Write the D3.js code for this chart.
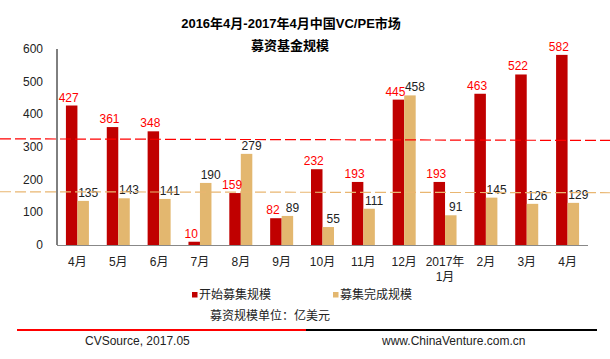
<!DOCTYPE html>
<html><head><meta charset="utf-8">
<script src="https://cdn.jsdelivr.net/npm/d3@7"></script>
<style>
body{margin:0;background:#fff;}
text{font-family:"Liberation Sans",Arial,"Noto Sans CJK SC",sans-serif;}
</style></head>
<body><svg id="c" width="610" height="359"></svg>
<script>
const categories = ["4月","5月","6月","7月","8月","9月","10月","11月","12月","2017年\n1月","2月","3月","4月"];
const startValues = [427,361,348,10,159,82,232,193,445,193,463,522,582];
const doneValues = [135,143,141,190,279,89,55,111,458,91,145,126,129];
const yTicks = [0,100,200,300,400,500,600];
const avgStart = [325,320];
const avgDone = [163,160];
const seriesNames = ["开始募集规模","募集完成规模"];
const colors = ["#c00000","#e3b76f"];

const svg = d3.select("#c");
const idx = d3.range(categories.length);
const x = d3.scaleBand().domain(idx).range([57,588]);
const y = d3.scaleLinear().domain([0,600]).range([245,49]);
const bw = 11.5;
const cx = i => x(i)+x.bandwidth()/2;

// title
svg.append("text").attr("x",291).attr("y",28).attr("text-anchor","middle")
  .attr("font-size",13).attr("font-weight","bold").text("2016年4月-2017年4月中国VC/PE市场");
svg.append("text").attr("x",290).attr("y",50).attr("text-anchor","middle")
  .attr("font-size",13).attr("font-weight","bold").text("募资基金规模");

// y tick labels
svg.selectAll(".yt").data(yTicks).enter().append("text")
  .attr("x",43).attr("y",d=>y(d)+4).attr("text-anchor","end")
  .attr("font-size",12).attr("fill","#222").text(d=>d);

// bars
const g = svg.append("g");
g.selectAll(".rs").data(idx).enter().append("rect")
  .attr("x",i=>cx(i)-bw).attr("width",bw)
  .attr("y",i=>y(startValues[i])).attr("height",i=>y(0)-y(startValues[i]))
  .attr("fill",colors[0]);
g.selectAll(".ds").data(idx).enter().append("rect")
  .attr("x",i=>cx(i)).attr("width",bw)
  .attr("y",i=>y(doneValues[i])).attr("height",i=>y(0)-y(doneValues[i]))
  .attr("fill",colors[1]);

// axes lines
svg.append("line").attr("x1",57).attr("x2",57).attr("y1",49).attr("y2",245).attr("stroke","#000").attr("stroke-width",1);
svg.append("line").attr("x1",57).attr("x2",588).attr("y1",245.5).attr("y2",245.5).attr("stroke","#888").attr("stroke-width",1.2);

// average dashed lines
svg.append("line").attr("x1",0).attr("x2",610).attr("y1",y(avgStart[0])).attr("y2",y(avgStart[1]))
  .attr("stroke","#ff0000").attr("stroke-width",1.2).attr("stroke-dasharray","11,4");
svg.append("line").attr("x1",0).attr("x2",610).attr("y1",y(avgDone[0])).attr("y2",y(avgDone[1]))
  .attr("stroke","#e9b671").attr("stroke-width",1.2).attr("stroke-dasharray","11,4");

// value labels
g.selectAll(".rl").data(idx).enter().append("text")
  .attr("x",i=>cx(i)-bw/2-3).attr("y",i=>y(startValues[i])-4)
  .attr("text-anchor","middle").attr("font-size",12).attr("fill","#ff0000").text(i=>startValues[i]);
g.selectAll(".dl").data(idx).enter().append("text")
  .attr("x",i=>cx(i)+bw/2+5).attr("y",i=>y(doneValues[i])-4)
  .attr("text-anchor","middle").attr("font-size",12).attr("fill","#222").text(i=>doneValues[i]);

// x labels
idx.forEach(i=>{
  const lines = categories[i].split("\n");
  lines.forEach((l,j)=>{
    svg.append("text").attr("x",cx(i)).attr("y",266+j*15)
      .attr("text-anchor","middle").attr("font-size",12).attr("fill","#222").text(l);
  });
});

// legend
const lg = [[192,seriesNames[0],colors[0]],[333,seriesNames[1],colors[1]]];
lg.forEach(([lx,t,c])=>{
  svg.append("rect").attr("x",lx).attr("y",292).attr("width",5.5).attr("height",5.5).attr("fill",c);
  svg.append("text").attr("x",lx+7).attr("y",299).attr("font-size",12).attr("fill","#222").text(t);
});
svg.append("text").attr("x",270).attr("y",320).attr("text-anchor","middle").attr("font-size",12).attr("fill","#222").text("募资规模单位：亿美元");

// footer line
svg.append("line").attr("x1",17).attr("x2",306).attr("y1",330).attr("y2",330).attr("stroke","#ff0000").attr("stroke-width",2);
svg.append("line").attr("x1",306).attr("x2",597).attr("y1",330).attr("y2",330).attr("stroke","#000").attr("stroke-width",2);
svg.append("text").attr("x",85).attr("y",345).attr("font-size",12).attr("fill","#222").text("CVSource, 2017.05");
svg.append("text").attr("x",382).attr("y",345).attr("font-size",12).attr("fill","#222").text("www.ChinaVenture.com.cn");
</script></body></html>
